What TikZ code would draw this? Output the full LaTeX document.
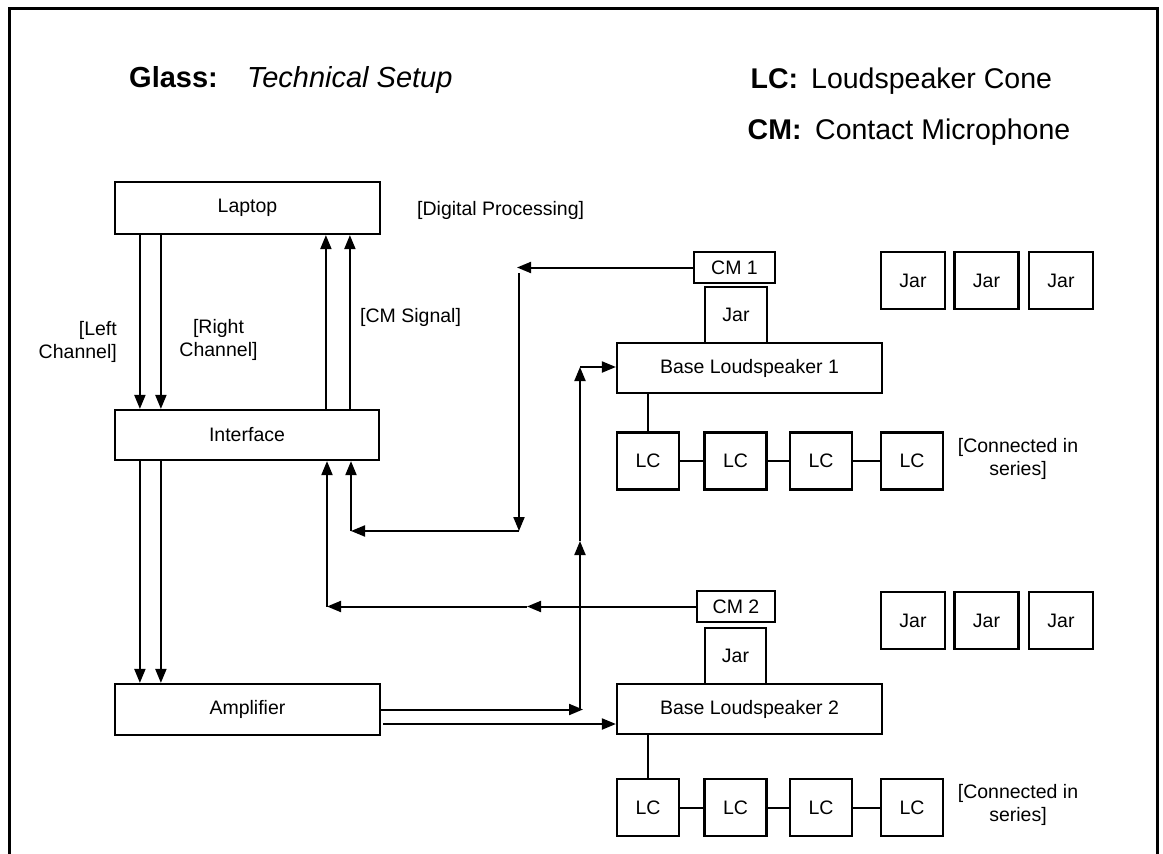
\documentclass[tikz,border=0pt]{standalone}
\usepackage{fontspec}
\setmainfont{Liberation Sans}
\usetikzlibrary{arrows.meta,calc}
\begin{document}
\begin{tikzpicture}[x=1pt,y=-1pt,
  box/.style={draw=black, line width=2.2pt, rectangle, inner sep=0pt, font=\fontsize{19.5}{23}\selectfont},
  lbl/.style={inner sep=0pt, font=\fontsize{19.5}{23}\selectfont},
  big/.style={inner sep=0pt, anchor=base west, font=\fontsize{28.5}{34}\selectfont},
  conn/.style={line width=2pt},
  arr/.style={line width=2pt, -{Triangle[length=14pt,width=11pt]}},
  lcbox/.style={box, minimum width=62pt, minimum height=57pt},
  jarbox/.style={box, minimum width=64pt, minimum height=57pt}
  ]
\useasboundingbox (0,0) rectangle (1163,854);
% frame
\draw[line width=3pt] (9,856) -- (9,8) -- (1157,8) -- (1157,856);

% titles
\node[big, font=\fontsize{29}{34}\selectfont\bfseries] (t1) at (129,87) {Glass:};
\node[big, font=\fontsize{29}{34}\selectfont\itshape] (t2) at (247,87) {Technical Setup};
\node[big, font=\fontsize{28.5}{34}\selectfont\bfseries] (k1) at (750.5,88) {LC:};
\node[big] (k1t) at (811,88) {Loudspeaker Cone};
\node[big, font=\fontsize{28.5}{34}\selectfont\bfseries] (k2) at (747.5,139) {CM:};
\node[big] (k2t) at (815,139) {Contact Microphone};

% left column
\node[box, minimum width=265pt, minimum height=52pt] (laptop) at (247.5,208) {Laptop};
\node[box, minimum width=264pt, minimum height=50pt] (iface) at (247,435) {Interface};
\node[box, minimum width=265pt, minimum height=51pt] (amp) at (247.5,709.5) {Amplifier};

\node[lbl, anchor=base west] (dp) at (417,215) {[Digital Processing]};
\node[lbl, anchor=base west] (cms) at (360,322) {[CM Signal]};
\node[lbl, align=center] (rc) at (218.5,340) {[Right\\Channel]};
\node[lbl, align=right, anchor=east] (lc) at (117,342) {[Left\\Channel]};

\draw[arr] ($(laptop.south west)+(26,0)$) -- ($(iface.north west)+(26,0)$);
\draw[arr] ($(laptop.south west)+(47,0)$) -- ($(iface.north west)+(47,0)$);
\draw[arr] ($(iface.north west)+(212,0)$) -- ($(laptop.south west)+(212,0)$);
\draw[arr] ($(iface.north west)+(236,0)$) -- ($(laptop.south west)+(236,0)$);
\draw[arr] ($(iface.south west)+(26,0)$) -- ($(amp.north west)+(26,0)$);
\draw[arr] ($(iface.south west)+(47,0)$) -- ($(amp.north west)+(47,0)$);

% group 1
\node[box, minimum width=81pt, minimum height=31pt] (cm1) at (734.5,267.5) {CM 1};
\node[box, minimum width=62pt, minimum height=56pt] (jar1) at (736,315) {Jar};
\node[box, minimum width=265pt, minimum height=50pt] (bl1) at (749.5,368) {Base Loudspeaker 1};
\node[lcbox] (lca1) at (648,461) {LC};
\node[lcbox] (lca2) at (735.5,461) {LC};
\node[lcbox] (lca3) at (821,461) {LC};
\node[lcbox] (lca4) at (912,461) {LC};
\node[jarbox] (ja1) at (913,280.5) {Jar};
\node[jarbox] (ja2) at (986.5,280.5) {Jar};
\node[jarbox] (ja3) at (1061,280.5) {Jar};
\node[lbl, align=center] (sa) at (1018,459) {[Connected in\\series]};
\draw[conn] (bl1.south -| lca1.north) -- (lca1.north);
\draw[conn] (lca1.east) -- (lca2.west);
\draw[conn] (lca2.east) -- (lca3.west);
\draw[conn] (lca3.east) -- (lca4.west);

% group 2
\node[box, minimum width=78pt, minimum height=31pt] (cm2) at (736,606.5) {CM 2};
\node[box, minimum width=61pt, minimum height=56pt] (jar2) at (735.5,656) {Jar};
\node[box, minimum width=265pt, minimum height=50pt] (bl2) at (749.5,709) {Base Loudspeaker 2};
\node[lcbox] (lcb1) at (648,807.5) {LC};
\node[lcbox] (lcb2) at (735.5,807.5) {LC};
\node[lcbox] (lcb3) at (821,807.5) {LC};
\node[lcbox] (lcb4) at (912,807.5) {LC};
\node[jarbox] (jb1) at (913,620.5) {Jar};
\node[jarbox] (jb2) at (986.5,620.5) {Jar};
\node[jarbox] (jb3) at (1061,620.5) {Jar};
\node[lbl, align=center] (sb) at (1018,805) {[Connected in\\series]};
\draw[conn] (bl2.south -| lcb1.north) -- (lcb1.north);
\draw[conn] (lcb1.east) -- (lcb2.west);
\draw[conn] (lcb2.east) -- (lcb3.west);
\draw[conn] (lcb3.east) -- (lcb4.west);

% CM1 signal path
\coordinate (c1a) at (517,267.5);
\coordinate (c1b) at (519,273);
\coordinate (c1c) at (519,531);
\coordinate (c1d) at (351,531);
\draw[arr] (cm1.west) -- (c1a);
\draw[arr] (c1b) -- (c1c);
\draw[arr] (c1c) -- (c1d);
\draw[arr] (c1d) -- (c1d |- iface.south);

% CM2 signal path
\coordinate (c2a) at (527,606.5);
\coordinate (c2b) at (327,606.5);
\draw[arr] (cm2.west) -- (c2a);
\draw[arr] (c2a) -- (c2b);
\draw[arr] (c2b) -- (c2b |- iface.south);

% amplifier outputs
\coordinate (a1) at (583,709.5);
\coordinate (a2) at (580,709.5);
\coordinate (a3) at (580,541);
\coordinate (a4) at (580,367);
\coordinate (a5) at (383,724);
\draw[arr] (amp.east) -- (a1);
\draw[arr] (a2) -- (a3);
\draw[arr] (a3) -- (a4);
\draw[arr] (a4) -- (a4 -| bl1.west);
\draw[arr] (a5) -- (a5 -| bl2.west);
\end{tikzpicture}
\end{document}
